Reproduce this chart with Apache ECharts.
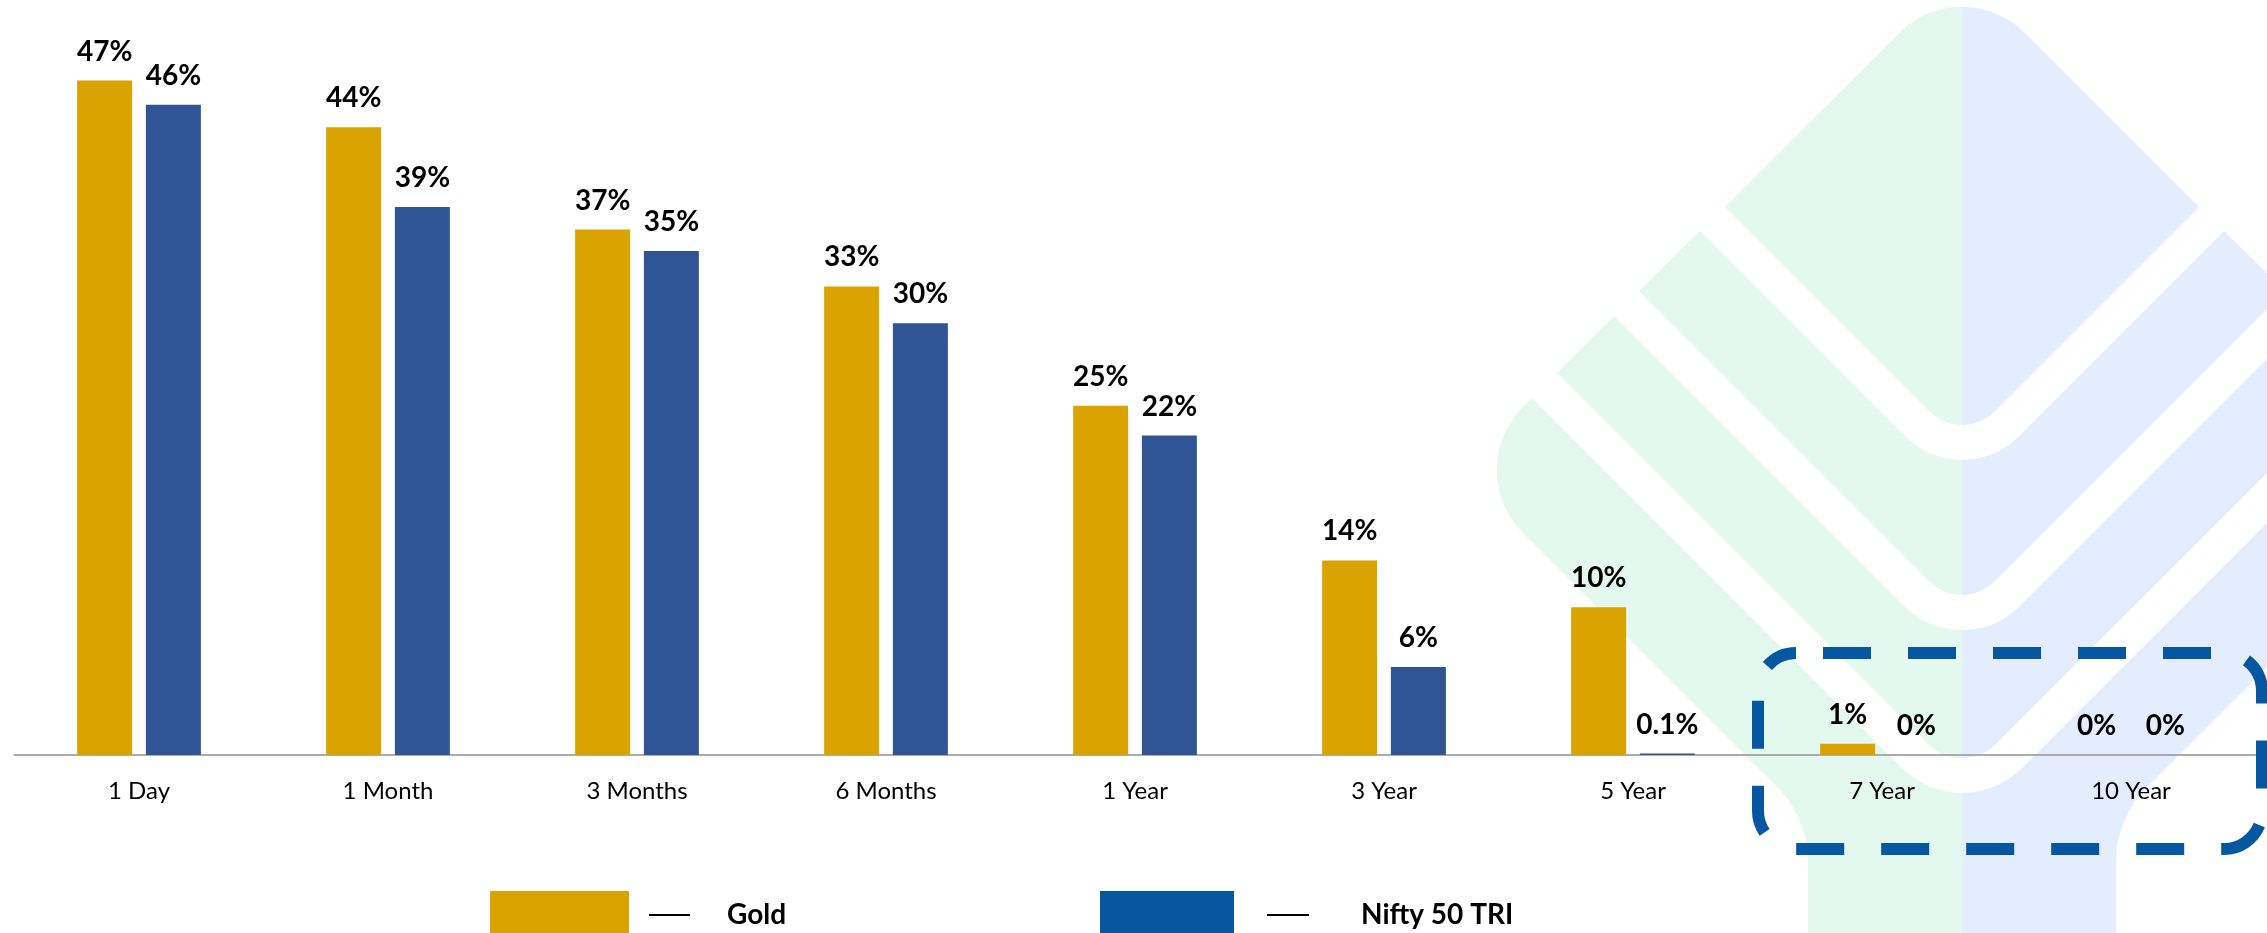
<!DOCTYPE html>
<html>
<head>
<meta charset="utf-8">
<script src="https://cdn.jsdelivr.net/npm/echarts@6/dist/echarts.min.js"></script>
<style>
html,body{margin:0;padding:0;background:#fff;}
#chart{width:2267px;height:933px;}
</style>
</head>
<body>
<div id="chart"></div>
<script>
const categories = ['1 Day', '1 Month', '3 Months', '6 Months', '1 Year', '3 Year', '5 Year', '7 Year', '10 Year'];
const goldValues = [47.5, 44.2, 37.0, 33.0, 24.6, 13.7, 10.4, 0.8, 0];
const niftyValues = [45.8, 38.6, 35.5, 30.4, 22.5, 6.2, 0.1, 0, 0];
const goldLabels = ['47%', '44%', '37%', '33%', '25%', '14%', '10%', '1%', '0%'];
const niftyLabels = ['46%', '39%', '35%', '30%', '22%', '6%', '0.1%', '0%', '0%'];
const seriesNames = ['Gold', 'Nifty 50 TRI'];

const FONT = 'Lato';
const GOLD = '#DAA300';
const BLUE = '#2F5597';
const LEGEND_BLUE = '#0457A0';

// ---- watermark logo (decorative background) ----
const CX = 1962;
const K = 0.5523;
function add(a, b) { return [a[0] + b[0], a[1] + b[1]]; }
function sub(a, b) { return [a[0] - b[0], a[1] - b[1]]; }
function mul(a, s) { return [a[0] * s, a[1] * s]; }
function unit(a) { const l = Math.hypot(a[0], a[1]); return [a[0] / l, a[1] / l]; }
function lerp(a, b, t) { return [a[0] + (b[0] - a[0]) * t, a[1] + (b[1] - a[1]) * t]; }
function mir(p) { return [2 * CX - p[0], p[1]]; }
function cubicPts(P0, P1, P2, P3, t0, t1, out) {
  const N = 16;
  for (let i = 0; i <= N; i++) {
    const t = t0 + (t1 - t0) * i / N, u = 1 - t;
    out.push([
      u * u * u * P0[0] + 3 * u * u * t * P1[0] + 3 * u * t * t * P2[0] + t * t * t * P3[0],
      u * u * u * P0[1] + 3 * u * u * t * P1[1] + 3 * u * t * t * P2[1] + t * t * t * P3[1]
    ]);
  }
}
function halfPoly(pts) {
  const n = pts.length, out = [];
  const V0 = [pts[0][0], pts[0][1]], d0 = pts[0][2];
  const V1 = [pts[1][0], pts[1][1]];
  if (d0 > 0) {
    const T = add(V0, mul(unit(sub(V1, V0)), d0));
    const Tm = mir(T);
    cubicPts(Tm, lerp(Tm, V0, K), lerp(T, V0, K), T, 0.5, 1, out);
  } else out.push(V0);
  for (let i = 1; i < n - 1; i++) {
    const V = [pts[i][0], pts[i][1]], d = pts[i][2];
    if (d > 0) {
      const A = [pts[i - 1][0], pts[i - 1][1]], B = [pts[i + 1][0], pts[i + 1][1]];
      const Pin = add(V, mul(unit(sub(A, V)), d));
      const Pout = add(V, mul(unit(sub(B, V)), d));
      cubicPts(Pin, lerp(Pin, V, K), lerp(Pout, V, K), Pout, 0, 1, out);
    } else out.push(V);
  }
  const Vn = [pts[n - 1][0], pts[n - 1][1]], dn = pts[n - 1][2];
  const Vp = [pts[n - 2][0], pts[n - 2][1]];
  if (dn > 0) {
    const T = add(Vn, mul(unit(sub(Vp, Vn)), dn));
    const Tm = mir(T);
    cubicPts(T, lerp(T, Vn, K), lerp(Tm, Vn, K), Tm, 0, 0.5, out);
  } else out.push(Vn);
  return out;
}
const logoPieces = [
  [[CX, -30, 89], [1725, 207, 0], [CX, 444, 46]],
  [[CX, 493, 80], [1700, 231, 0], [1639, 291, 0], [CX, 614, 46]],
  [[CX, 664, 82], [1614, 316, 0], [1557, 373, 0], [CX, 778, 48]],
  [[CX, 828, 85], [1532, 398, 0], [1460, 470, 89], [1808, 818, 40], [1808, 960, 0], [CX, 960, 0]]
];
const logoGraphics = [];
logoPieces.forEach(function (pts) {
  logoGraphics.push({ type: 'polygon', silent: true, z: -10, shape: { points: halfPoly(pts) }, style: { fill: '#E3F8EE' } });
  const m = pts.map(function (p) { return [2 * CX - p[0], p[1], p[2]]; });
  logoGraphics.push({ type: 'polygon', silent: true, z: -10, shape: { points: halfPoly(m) }, style: { fill: '#E3EDFD' } });
});

const chart = echarts.init(document.getElementById('chart'), null, { renderer: 'canvas' });

function legendFmt(name) { return '{s| }{d| }{g| }{n|' + name + '}'; }
function legendRich(sp1, dash, sp2) {
  return {
    s: { width: sp1, fontSize: 2 },
    d: { width: dash, height: 2, backgroundColor: '#000', fontSize: 2 },
    g: { width: sp2, fontSize: 2 },
    n: { fontSize: 28, fontWeight: 'bold', fontFamily: FONT, color: '#000', lineHeight: 32 }
  };
}

const option = {
  backgroundColor: '#ffffff',
  animation: false,
  textStyle: { fontFamily: FONT },
  grid: { left: 14.5, right: 11.5, top: 45, bottom: 178, containLabel: false },
  legend: [
    {
      data: [{ name: seriesNames[0], itemStyle: { color: GOLD } }],
      left: 490, top: 891, padding: 0,
      icon: 'rect', itemWidth: 139, itemHeight: 48,
      selectedMode: false,
      formatter: legendFmt,
      textStyle: { rich: legendRich(15, 41, 37) }
    },
    {
      data: [{ name: seriesNames[1], itemStyle: { color: LEGEND_BLUE } }],
      left: 1100, top: 891, padding: 0,
      icon: 'rect', itemWidth: 134, itemHeight: 48,
      selectedMode: false,
      formatter: legendFmt,
      textStyle: { rich: legendRich(28, 42, 52) }
    }
  ],
  xAxis: {
    type: 'category',
    data: categories,
    boundaryGap: true,
    axisLine: { show: true, lineStyle: { color: '#ababab', width: 2 } },
    axisTick: { show: false },
    axisLabel: { fontSize: 24, color: '#000', fontFamily: FONT, margin: 24, lineHeight: 24, interval: 0 },
    splitLine: { show: false }
  },
  yAxis: {
    type: 'value', min: 0, max: 50, show: false,
    splitLine: { show: false }
  },
  series: [
    {
      name: seriesNames[0], type: 'bar', data: goldValues,
      barWidth: 55, barGap: '25%',
      itemStyle: { color: GOLD },
      label: {
        show: true, position: 'top', distance: 15,
        formatter: function (p) { return goldLabels[p.dataIndex]; },
        fontSize: 28, fontWeight: 'bold', color: '#000', fontFamily: FONT, lineHeight: 28
      }
    },
    {
      name: seriesNames[1], type: 'bar', data: niftyValues,
      barWidth: 55, barGap: '25%',
      itemStyle: { color: BLUE },
      label: {
        show: true, position: 'top', distance: 15,
        formatter: function (p) { return niftyLabels[p.dataIndex]; },
        fontSize: 28, fontWeight: 'bold', color: '#000', fontFamily: FONT, lineHeight: 28
      }
    }
  ],
  graphic: logoGraphics.concat([
    {
      type: 'rect', silent: true, z: 100,
      shape: { x: 1758, y: 653, width: 504, height: 196, r: 38 },
      style: { fill: 'none', stroke: LEGEND_BLUE, lineWidth: 12, lineDash: [48, 37], lineDashOffset: 58 }
    }
  ])
};
chart.setOption(option);
</script>
</body>
</html>
